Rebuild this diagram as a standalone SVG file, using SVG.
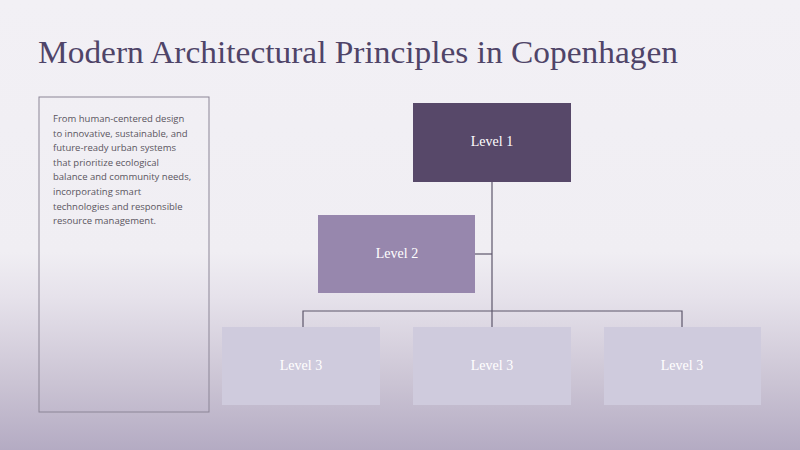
<svg xmlns="http://www.w3.org/2000/svg" width="800" height="450" viewBox="0 0 800 450">
<defs>
<linearGradient id="bg" x1="0" y1="0" x2="0" y2="1">
<stop offset="0" stop-color="#f2f0f5"/>
<stop offset="0.56" stop-color="#f0eef3"/>
<stop offset="0.66" stop-color="#e6e2eb"/>
<stop offset="0.85" stop-color="#cbc4d4"/>
<stop offset="1" stop-color="#b4abc3"/>
</linearGradient>
<style>
.title{font-family:"Liberation Serif","DejaVu Serif",serif;font-size:31px;fill:#4f4468}
.body{font-family:"Open Sans","Liberation Sans",sans-serif;font-size:9.5px;fill:#5a5560}
.lbl{font-family:"Liberation Serif","DejaVu Serif",serif;font-size:14px;fill:#ffffff;text-anchor:middle}
.conn{stroke:#5d566b;stroke-width:1.2;fill:none}
.l3{fill:#cfcbdd}
</style>
</defs>
<rect width="800" height="450" fill="url(#bg)"/>
<text class="title" x="38" y="63" textLength="640" lengthAdjust="spacingAndGlyphs">Modern Architectural Principles in Copenhagen</text>
<g id="textbox">
<rect x="39" y="97" width="170" height="315" fill="none" stroke="#8b8596" stroke-width="1"/>
<text class="body" x="53" y="122">From human-centered design</text>
<text class="body" x="53" y="136.6">to innovative, sustainable, and</text>
<text class="body" x="53" y="151.2">future-ready urban systems</text>
<text class="body" x="53" y="165.8">that prioritize ecological</text>
<text class="body" x="53" y="180.4">balance and community needs,</text>
<text class="body" x="53" y="195">incorporating smart</text>
<text class="body" x="53" y="209.6">technologies and responsible</text>
<text class="body" x="53" y="224.2">resource management.</text>
</g>
<g id="connectors">
<line class="conn" x1="492" y1="182" x2="492" y2="327"/>
<line class="conn" x1="475" y1="254" x2="492" y2="254"/>
<polyline class="conn" points="303,327 303,311 682,311 682,327"/>
</g>
<g id="level1">
<rect x="413" y="103" width="158" height="79" fill="#574869"/>
<text class="lbl" x="492" y="146">Level 1</text>
</g>
<g id="level2">
<rect x="318" y="215" width="157" height="78" fill="#9787ad"/>
<text class="lbl" x="397" y="258">Level 2</text>
</g>
<g id="level3a">
<rect class="l3" x="222" y="327" width="158" height="78"/>
<text class="lbl" x="301" y="370">Level 3</text>
</g>
<g id="level3b">
<rect class="l3" x="413" y="327" width="158" height="78"/>
<text class="lbl" x="492" y="370">Level 3</text>
</g>
<g id="level3c">
<rect class="l3" x="604" y="327" width="157" height="78"/>
<text class="lbl" x="682" y="370">Level 3</text>
</g>
</svg>
